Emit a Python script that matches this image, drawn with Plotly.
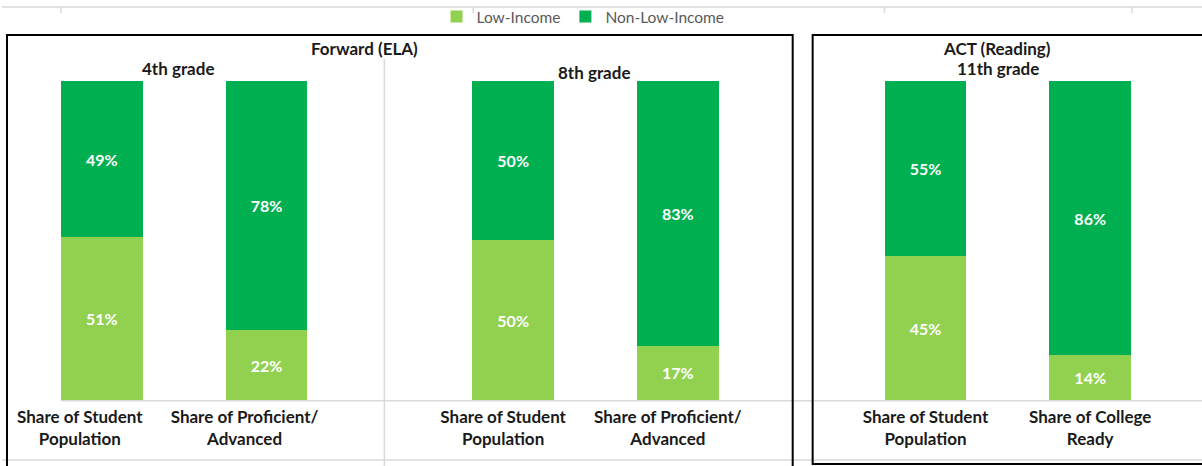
import plotly.graph_objects as go

# ---- data ----
panels = ["4th grade", "8th grade", "11th grade"]
categories = [
    ["Share of Student<br>Population", "Share of Proficient/<br>Advanced"],
    ["Share of Student<br>Population", "Share of Proficient/<br>Advanced"],
    ["Share of Student<br>Population", "Share of College<br>Ready"],
]
low_income = [[51, 22], [50, 17], [45, 14]]
non_low_income = [[49, 78], [50, 83], [55, 86]]

LIGHT = "#92D050"
DARK = "#00B050"
W, H = 1202, 466
FONT = "Lato"

def px(x):
    return x / W

def py(y):
    return 1 - y / H

fig = go.Figure()

domains = [(17.5, 347.5), (429.5, 759.5), (842.5, 1172.5)]
shifts = [-22, -10, 0]

for i in range(3):
    xa = "x" if i == 0 else f"x{i+1}"
    ya = "y" if i == 0 else f"y{i+1}"
    fig.add_trace(go.Bar(
        x=categories[i], y=low_income[i], name="Low-Income",
        marker_color=LIGHT, marker_line_width=0, showlegend=(i == 0), legendgroup="low",
        texttemplate="%{y}%", textposition="inside", insidetextanchor="middle",
        textfont=dict(family=FONT, size=16, color="white", weight="bold"),
        textangle=0, xaxis=xa, yaxis=ya, hoverinfo="skip",
    ))
    fig.add_trace(go.Bar(
        x=categories[i], y=non_low_income[i], name="Non-Low-Income",
        marker_color=DARK, marker_line_width=0, showlegend=(i == 0), legendgroup="non",
        texttemplate="%{y}%", textposition="inside", insidetextanchor="middle",
        textfont=dict(family=FONT, size=16, color="white", weight="bold"),
        textangle=0, xaxis=xa, yaxis=ya, hoverinfo="skip",
    ))

layout_axes = {}
for i in range(3):
    xk = "xaxis" if i == 0 else f"xaxis{i+1}"
    yk = "yaxis" if i == 0 else f"yaxis{i+1}"
    d0, d1 = domains[i]
    layout_axes[xk] = dict(
        domain=[px(d0), px(d1)], type="category", range=[-0.5, 1.5],
        anchor="y" if i == 0 else f"y{i+1}",
        showline=False, showgrid=False, zeroline=False, ticks="",
        tickfont=dict(family=FONT, size=17, color="#1a1a1a", weight="bold"),
        ticklabelshift=shifts[i], ticklabelstandoff=5,
    )
    layout_axes[yk] = dict(
        domain=[py(400), py(80)], range=[0, 100], visible=False,
        anchor="x" if i == 0 else f"x{i+1}",
        showgrid=False, zeroline=False,
    )

shapes = []
GRAY = "#D9D9D9"
# table-like light grid lines
shapes.append(dict(type="line", xref="paper", yref="paper", x0=0, x1=1, y0=py(6), y1=py(6), line=dict(color=GRAY, width=1.5)))
shapes.append(dict(type="line", xref="paper", yref="paper", x0=px(59), x1=1, y0=py(400.5), y1=py(400.5), line=dict(color=GRAY, width=1.5)))
shapes.append(dict(type="line", xref="paper", yref="paper", x0=0, x1=1, y0=py(460), y1=py(460), line=dict(color=GRAY, width=1.5)))
shapes.append(dict(type="line", xref="paper", yref="paper", x0=px(383), x1=px(383), y0=py(58), y1=py(466), line=dict(color=GRAY, width=1.5)))
for xv in [59, 472, 884, 1132]:
    shapes.append(dict(type="line", xref="paper", yref="paper", x0=px(xv), x1=px(xv), y0=py(6), y1=py(12), line=dict(color=GRAY, width=1.5)))
# black frames
shapes.append(dict(type="rect", xref="paper", yref="paper", x0=px(5), x1=px(792), y0=py(470), y1=py(34), line=dict(color="black", width=2)))
shapes.append(dict(type="rect", xref="paper", yref="paper", x0=px(812), x1=px(1210), y0=py(464), y1=py(34), line=dict(color="black", width=2)))

title_font = dict(family=FONT, size=17, color="#1a1a1a", weight="bold")
def title(text, x, y):
    return dict(text=text, x=px(x), y=py(y), xref="paper", yref="paper", showarrow=False,
                xanchor="center", yanchor="middle", font=title_font)

annotations = [
    title("Forward (ELA)", 363, 48),
    title(panels[0], 176, 68),
    title(panels[1], 593, 72),
    title("ACT (Reading)", 997, 48),
    title(panels[2], 998, 68),
]

fig.update_layout(
    width=W, height=H, autosize=False,
    margin=dict(l=0, r=0, t=0, b=0),
    paper_bgcolor="white", plot_bgcolor="rgba(0,0,0,0)",
    barmode="stack", bargap=0.503,
    font=dict(family=FONT),
    legend=dict(orientation="h", x=px(582), xanchor="center", y=py(16), yanchor="middle",
                font=dict(family=FONT, size=15.5, color="#595959"), traceorder="normal",
                bgcolor="rgba(0,0,0,0)", itemwidth=30),
    shapes=shapes, annotations=annotations,
    **layout_axes,
)

fig.write_html("out.html", config={"displayModeBar": False},
               post_script="document.body.style.margin='0';")
